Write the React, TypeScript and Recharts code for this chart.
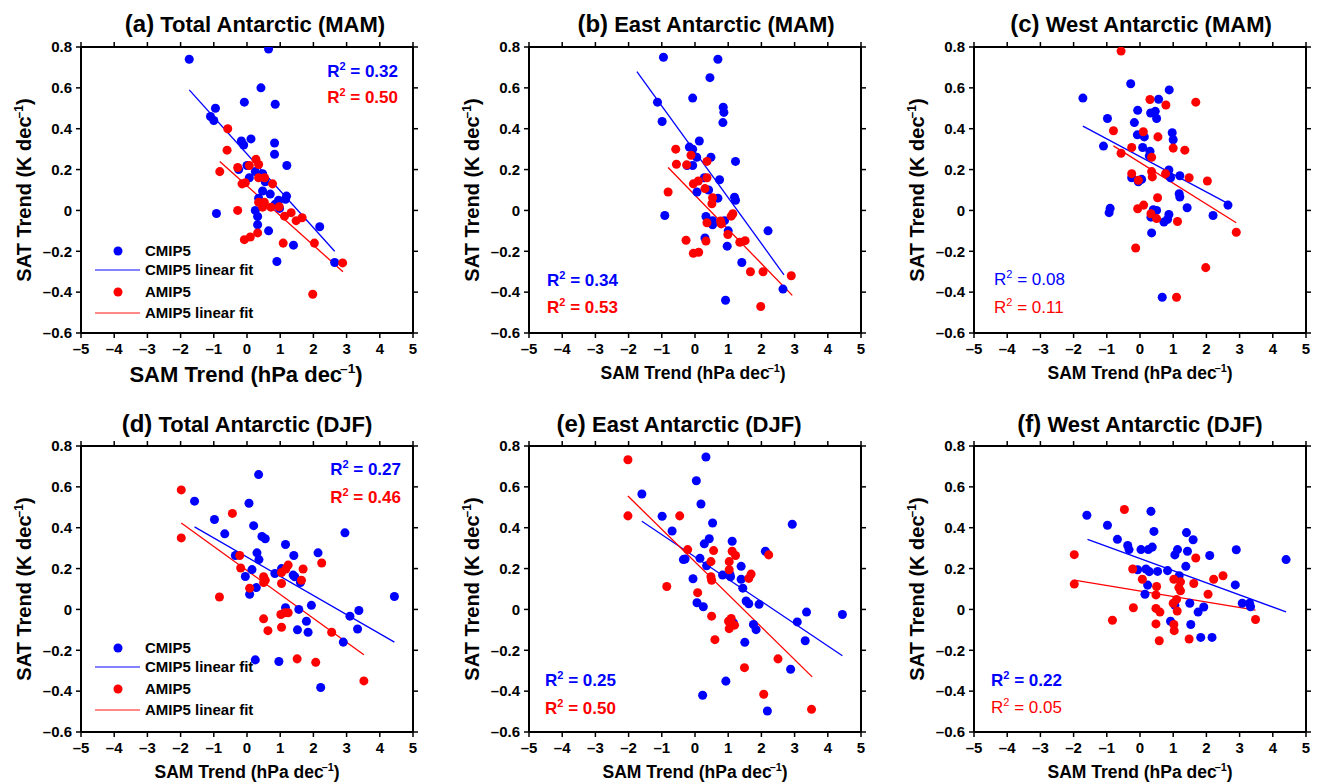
import React from 'react'
import { ReferenceLine, Scatter, ScatterChart, XAxis, YAxis } from 'recharts'

type Pt = [number, number]

const xTicks = [-5, -4, -3, -2, -1, 0, 1, 2, 3, 4, 5]
const yTicks = [-0.6, -0.4, -0.2, 0, 0.2, 0.4, 0.6, 0.8]

// (a) Total Antarctic (MAM)
const aCmip: Pt[] = [
  [-1.74, 0.74], [0.65, 0.79], [0.42, 0.6], [-0.08, 0.53], [0.85, 0.52], [-0.95, 0.5],
  [-1.1, 0.46], [-1.0, 0.44], [-0.17, 0.34], [-0.1, 0.32], [0.12, 0.35], [0.83, 0.33],
  [0.83, 0.275], [1.2, 0.22], [-0.25, 0.2], [0.0, 0.22], [0.07, 0.16], [0.25, 0.19],
  [0.47, 0.18], [0.55, 0.14], [0.47, 0.095], [0.7, 0.08], [0.35, 0.06], [1.19, 0.07],
  [1.16, 0.055], [0.95, 0.05], [0.85, 0.03], [0.98, 0.01], [0.25, 0.0], [0.32, -0.03],
  [0.32, -0.07], [0.65, -0.1], [-0.92, -0.015], [1.4, -0.17], [2.19, -0.08], [0.9, -0.25],
  [2.64, -0.255],
]
const aAmip: Pt[] = [
  [-0.58, 0.4], [-0.6, 0.295], [-0.82, 0.19], [-0.28, 0.21], [0.07, 0.22], [0.27, 0.25],
  [0.35, 0.225], [-0.15, 0.13], [-0.05, 0.135], [0.35, 0.16], [0.53, 0.16], [0.77, 0.13],
  [0.35, 0.04], [0.52, 0.04], [0.47, 0.016], [0.72, 0.016], [0.97, 0.018], [-0.28, 0.0],
  [1.13, -0.028], [1.33, -0.011], [1.48, -0.05], [1.66, -0.036], [-0.08, -0.143], [0.1, -0.13],
  [0.32, -0.11], [1.09, -0.16], [2.03, -0.16], [2.88, -0.257], [1.98, -0.41],
]
const aCmipFit: Pt[] = [[-1.74, 0.59], [2.64, -0.2]]
const aAmipFit: Pt[] = [[-0.82, 0.24], [2.89, -0.3]]

// (b) East Antarctic (MAM)
const bCmip: Pt[] = [
  [-0.95, 0.75], [0.69, 0.74], [0.45, 0.65], [-0.07, 0.55], [-1.13, 0.53], [0.85, 0.505],
  [0.87, 0.48], [-0.99, 0.435], [0.84, 0.43], [0.13, 0.34], [-0.17, 0.31], [-0.07, 0.3],
  [0.05, 0.26], [0.48, 0.26], [1.22, 0.24], [-0.07, 0.22], [-0.24, 0.22], [0.74, 0.15],
  [0.28, 0.16], [0.41, 0.1], [0.06, 0.09], [0.69, 0.06], [1.19, 0.065], [1.22, 0.05],
  [0.33, -0.03], [0.53, -0.05], [0.89, -0.05], [0.53, -0.07], [1.0, -0.1], [2.2, -0.1],
  [0.3, -0.135], [0.97, -0.175], [1.41, -0.255], [2.65, -0.385], [0.92, -0.44], [-0.91, -0.025],
]
const bAmip: Pt[] = [
  [-0.58, 0.3], [-0.56, 0.226], [-0.25, 0.223], [-0.12, 0.27], [0.36, 0.24], [-0.81, 0.09],
  [-0.05, 0.13], [0.1, 0.144], [0.3, 0.107], [0.36, 0.16], [0.53, 0.062], [0.51, 0.033],
  [1.09, -0.028], [1.14, -0.016], [0.36, -0.06], [0.77, -0.052], [0.79, -0.066], [0.99, -0.118],
  [1.35, -0.156], [1.51, -0.148], [-0.27, -0.146], [0.33, -0.15], [-0.05, -0.21], [0.11, -0.205],
  [1.67, -0.3], [2.05, -0.3], [2.9, -0.32], [1.98, -0.47],
]
const bCmipFit: Pt[] = [[-1.75, 0.68], [2.68, -0.315]]
const bAmipFit: Pt[] = [[-0.81, 0.21], [2.93, -0.416]]

// (c) West Antarctic (MAM)
const cCmip: Pt[] = [
  [-1.72, 0.55], [-0.28, 0.62], [0.88, 0.59], [0.56, 0.544], [-0.98, 0.45], [-0.07, 0.49],
  [0.32, 0.477], [0.46, 0.485], [0.5, 0.45], [-0.17, 0.43], [-0.08, 0.37], [0.13, 0.36],
  [0.97, 0.38], [1.0, 0.346], [-1.1, 0.315], [0.08, 0.308], [0.3, 0.29], [0.28, 0.267],
  [0.87, 0.198], [1.2, 0.17], [0.92, 0.16], [-0.25, 0.16], [0.05, 0.152], [-0.05, 0.14],
  [1.18, 0.082], [1.2, 0.066], [1.42, 0.013], [2.65, 0.026], [-0.9, 0.01], [-0.93, -0.011],
  [0.33, -0.033], [0.4, 0.003], [0.5, 0.0], [0.87, -0.02], [0.83, -0.044], [0.72, -0.057],
  [2.2, -0.025], [0.35, -0.11], [0.67, -0.425],
]
const cAmip: Pt[] = [
  [-0.57, 0.78], [0.3, 0.543], [0.78, 0.516], [1.68, 0.53], [-0.8, 0.39], [0.1, 0.385],
  [0.54, 0.36], [-0.25, 0.308], [1.0, 0.305], [1.35, 0.295], [-0.57, 0.28], [0.35, 0.26],
  [-0.25, 0.18], [0.35, 0.19], [0.37, 0.164], [0.77, 0.18], [1.48, 0.16], [2.03, 0.144],
  [-0.05, 0.148], [0.53, 0.062], [-0.07, 0.008], [0.11, 0.026], [0.33, -0.016], [0.5, -0.04],
  [1.13, -0.054], [2.9, -0.107], [-0.13, -0.184], [1.98, -0.28], [1.1, -0.425],
]
const cCmipFit: Pt[] = [[-1.72, 0.413], [2.6, 0.038]]
const cAmipFit: Pt[] = [[-0.8, 0.316], [2.9, -0.06]]

// (d) Total Antarctic (DJF)
const dCmip: Pt[] = [
  [0.35, 0.66], [-1.58, 0.53], [0.06, 0.52], [-0.98, 0.44], [0.2, 0.41], [-0.67, 0.37],
  [0.45, 0.357], [0.55, 0.346], [2.95, 0.375], [1.16, 0.318], [0.3, 0.277], [2.14, 0.277],
  [-0.35, 0.264], [1.41, 0.264], [0.36, 0.244], [0.15, 0.195], [1.04, 0.2], [0.84, 0.176],
  [1.39, 0.168], [-0.05, 0.161], [1.44, 0.16], [1.61, 0.132], [0.28, 0.107], [0.08, 0.074],
  [4.44, 0.063], [1.94, 0.02], [1.16, 0.008], [1.56, 0.0], [3.37, -0.005], [3.1, -0.033],
  [1.79, -0.058], [1.52, -0.1], [1.84, -0.112], [3.33, -0.096], [2.9, -0.16], [0.25, -0.247],
  [0.96, -0.255], [2.22, -0.382],
]
const dAmip: Pt[] = [
  [-1.98, 0.585], [-0.44, 0.47], [-1.98, 0.35], [-0.22, 0.264], [-0.19, 0.203], [-0.83, 0.061],
  [0.08, 0.104], [0.5, 0.16], [0.55, 0.143], [0.5, 0.132], [1.04, 0.127], [1.04, 0.181],
  [1.17, 0.198], [1.24, 0.217], [1.69, 0.198], [1.64, 0.143], [2.25, 0.227], [1.02, -0.025],
  [1.14, -0.016], [1.24, -0.016], [0.5, -0.046], [0.63, -0.104], [1.04, -0.087], [2.55, -0.112],
  [1.51, -0.242], [2.07, -0.259], [3.52, -0.35],
]
const dCmipFit: Pt[] = [[-1.58, 0.404], [4.44, -0.16]]
const dAmipFit: Pt[] = [[-1.98, 0.423], [3.52, -0.222]]

// (e) East Antarctic (DJF)
const eCmip: Pt[] = [
  [0.33, 0.746], [-1.6, 0.565], [0.04, 0.63], [0.18, 0.516], [-0.99, 0.456], [0.53, 0.423],
  [2.93, 0.417], [-0.69, 0.384], [0.43, 0.346], [0.28, 0.321], [1.12, 0.334], [2.12, 0.285],
  [-0.35, 0.244], [-0.3, 0.247], [0.15, 0.25], [0.35, 0.214], [1.39, 0.211], [0.83, 0.168],
  [1.05, 0.173], [1.07, 0.16], [1.39, 0.148], [-0.06, 0.15], [1.44, 0.104], [1.54, 0.041],
  [1.62, 0.028], [1.93, 0.025], [0.06, 0.033], [0.25, 0.013], [4.44, -0.025], [3.36, -0.013],
  [3.08, -0.061], [1.16, -0.066], [1.76, -0.074], [1.84, -0.099], [1.5, -0.161], [3.32, -0.153],
  [2.88, -0.293], [0.93, -0.351], [0.23, -0.42], [2.18, -0.497],
]
const eAmip: Pt[] = [
  [-2.02, 0.733], [-2.02, 0.458], [-0.46, 0.458], [-0.22, 0.293], [0.56, 0.288], [1.12, 0.285],
  [1.22, 0.264], [2.22, 0.267], [0.48, 0.234], [1.03, 0.234], [1.03, 0.194], [1.69, 0.173],
  [1.62, 0.152], [0.48, 0.16], [0.5, 0.143], [-0.85, 0.112], [0.08, 0.082], [0.5, -0.033],
  [1.09, -0.044], [1.01, -0.058], [1.19, -0.077], [1.03, -0.094], [0.6, -0.148], [2.5, -0.242],
  [1.49, -0.285], [2.07, -0.415], [3.51, -0.489],
]
const eCmipFit: Pt[] = [[-1.6, 0.432], [4.44, -0.227]]
const eAmipFit: Pt[] = [[-2.02, 0.555], [3.53, -0.33]]

// (f) West Antarctic (DJF)
const fCmip: Pt[] = [
  [-1.6, 0.461], [0.33, 0.48], [-0.98, 0.412], [0.42, 0.382], [-0.68, 0.343], [1.4, 0.376],
  [1.6, 0.341], [-0.37, 0.313], [-0.33, 0.293], [0.03, 0.293], [0.25, 0.293], [0.37, 0.305],
  [1.13, 0.293], [1.43, 0.285], [2.9, 0.292], [1.05, 0.267], [2.1, 0.264], [1.38, 0.211],
  [-0.07, 0.194], [0.18, 0.198], [0.28, 0.185], [0.53, 0.186], [0.83, 0.19], [1.18, 0.165],
  [4.4, 0.244], [0.23, 0.119], [2.87, 0.12], [0.15, 0.074], [3.08, 0.03], [3.3, 0.03],
  [3.33, 0.013], [1.5, 0.03], [1.92, 0.012], [1.75, -0.013], [1.05, 0.02], [0.92, -0.058],
  [1.53, -0.074], [1.83, -0.137], [2.17, -0.137],
]
const fAmip: Pt[] = [
  [-0.47, 0.489], [-1.98, 0.268], [1.68, 0.252], [-0.22, 0.198], [2.5, 0.165], [2.22, 0.148],
  [0.07, 0.148], [1.02, 0.148], [1.22, 0.135], [1.62, 0.127], [-1.98, 0.124], [0.5, 0.112],
  [1.17, 0.107], [1.22, 0.091], [0.48, 0.071], [2.05, 0.074], [1.1, 0.049], [1.0, 0.03],
  [-0.2, 0.008], [0.48, 0.005], [0.6, -0.013], [1.12, -0.008], [-0.83, -0.053], [3.48, -0.049],
  [0.48, -0.071], [1.02, -0.074], [1.03, -0.104], [0.58, -0.153], [1.48, -0.145],
]
const fCmipFit: Pt[] = [[-1.58, 0.343], [4.4, -0.012]]
const fAmipFit: Pt[] = [[-1.98, 0.143], [3.48, -0.003]]

const panelLetters = ['(a)', '(b)', '(c)', '(d)', '(e)', '(f)']
const panelNames = [
  'Total Antarctic (MAM)', 'East Antarctic (MAM)', 'West Antarctic (MAM)',
  'Total Antarctic (DJF)', 'East Antarctic (DJF)', 'West Antarctic (DJF)',
]
const r2Cmip = ['0.32', '0.34', '0.08', '0.27', '0.25', '0.22']
const r2Amip = ['0.50', '0.53', '0.11', '0.46', '0.50', '0.05']
const legendNames = ['CMIP5', 'CMIP5 linear fit', 'AMIP5', 'AMIP5 linear fit']

const FONT = '"Liberation Sans", Arial, Helvetica, sans-serif'
const BLUE = '#0000ff'
const RED = '#ff0000'
const W = 332
const H = 286
const YW = 60
const RW = 10
const TH = 8
const BH = 30

const toObj = (pts: Pt[]) => pts.map(([x, y]) => ({ x, y }))
const seg = (pts: Pt[]) => pts.map(([x, y]) => ({ x, y }))

const fmtY = (v: number) => {
  if (Math.abs(v) < 1e-9) return '0'
  return (v < 0 ? '\u2013' : '') + Math.abs(v).toFixed(1)
}
const fmtX = (v: number) => (v < 0 ? '\u2013' : '') + Math.abs(v)

const tickStyle = { fontSize: 15, fontWeight: 'bold', fill: '#000', fontFamily: FONT }
const axisLine = { stroke: '#000', strokeWidth: 2 }
const tickLine = { stroke: '#000', strokeWidth: 1.5 }

interface PanelProps {
  left: number
  top: number
  cmip: Pt[]
  amip: Pt[]
  cmipFit: Pt[]
  amipFit: Pt[]
}

function Panel({ left, top, cmip, amip, cmipFit, amipFit }: PanelProps) {
  return (
    <div style={{ position: 'absolute', left: left - YW, top: top - TH }}>
      <ScatterChart
        width={YW + W + RW}
        height={TH + H + BH}
        margin={{ top: 0, right: 0, bottom: 0, left: 0 }}
      >
        <XAxis
          xAxisId="b"
          type="number"
          dataKey="x"
          domain={[-5, 5]}
          ticks={xTicks}
          allowDataOverflow
          height={BH}
          tickSize={5}
          tickMargin={5}
          tick={tickStyle}
          tickFormatter={fmtX}
          axisLine={axisLine}
          tickLine={tickLine}
          interval={0}
        />
        <XAxis
          xAxisId="t"
          orientation="top"
          type="number"
          dataKey="x"
          domain={[-5, 5]}
          ticks={xTicks}
          allowDataOverflow
          height={TH}
          tickSize={5}
          tickFormatter={() => ''}
          axisLine={axisLine}
          tickLine={tickLine}
          interval={0}
        />
        <YAxis
          yAxisId="l"
          type="number"
          dataKey="y"
          domain={[-0.6, 0.8]}
          ticks={yTicks}
          allowDataOverflow
          width={YW}
          tickSize={5}
          tickMargin={4}
          tick={tickStyle}
          tickFormatter={fmtY}
          axisLine={axisLine}
          tickLine={tickLine}
          interval={0}
        />
        <YAxis
          yAxisId="r"
          orientation="right"
          type="number"
          dataKey="y"
          domain={[-0.6, 0.8]}
          ticks={yTicks}
          allowDataOverflow
          width={RW}
          tickSize={5}
          tickFormatter={() => ''}
          axisLine={axisLine}
          tickLine={tickLine}
          interval={0}
        />
        <Scatter xAxisId="b" yAxisId="l" data={toObj(cmip)} fill={BLUE} isAnimationActive={false} />
        <Scatter xAxisId="t" yAxisId="r" data={toObj(amip)} fill={RED} isAnimationActive={false} />
        <ReferenceLine xAxisId="b" yAxisId="l" segment={seg(cmipFit)} stroke={BLUE} strokeWidth={1.3} />
        <ReferenceLine xAxisId="t" yAxisId="r" segment={seg(amipFit)} stroke={RED} strokeWidth={1.3} />
      </ScatterChart>
    </div>
  )
}

const lefts = [81, 529, 974, 81, 529, 974]
const tops = [47, 47, 47, 446, 446, 446]
const titleX = [255, 706, 1141, 247, 679, 1140]
const series = [
  [aCmip, aAmip, aCmipFit, aAmipFit],
  [bCmip, bAmip, bCmipFit, bAmipFit],
  [cCmip, cAmip, cCmipFit, cAmipFit],
  [dCmip, dAmip, dCmipFit, dAmipFit],
  [eCmip, eAmip, eCmipFit, eAmipFit],
  [fCmip, fAmip, fCmipFit, fAmipFit],
]

function R2({ x, y, value, color, bold, anchor }: { x: number; y: number; value: string; color: string; bold: boolean; anchor: 'start' | 'end' }) {
  return (
    <text x={x} y={y} fill={color} fontSize={17} fontWeight={bold ? 'bold' : 'normal'} textAnchor={anchor}>
      R<tspan fontSize={11} dy={-7}>2</tspan>
      <tspan dy={7}> = {value}</tspan>
    </text>
  )
}

function SamLabel({ x, y, size }: { x: number; y: number; size: number }) {
  return (
    <text x={x} y={y} fontSize={size} fontWeight="bold" textAnchor="middle">
      SAM Trend (hPa dec
      <tspan fontSize={size * 0.62} dy={-size * 0.42} dx={-2}>{'\u2013'}1</tspan>
      <tspan dy={size * 0.42}>)</tspan>
    </text>
  )
}

function SatLabel({ cx, cy }: { cx: number; cy: number }) {
  return (
    <text x={cx} y={cy} dy={7} fontSize={20} fontWeight="bold" textAnchor="middle" transform={`rotate(-90, ${cx}, ${cy})`}>
      SAT Trend (K dec
      <tspan fontSize={12} dy={-8} dx={-2}>{'\u2013'}1</tspan>
      <tspan dy={8}>)</tspan>
    </text>
  )
}

function Legend({ top }: { top: number }) {
  // top = y of first legend row (dot centre)
  const rows = [0, 19, 41, 62]
  return (
    <g fontSize={15} fontWeight="bold">
      <circle cx={118} cy={top + rows[0]} r={4.5} fill={BLUE} />
      <line x1={95} x2={140} y1={top + rows[1]} y2={top + rows[1]} stroke="#5a5aff" strokeWidth={1.6} />
      <circle cx={118} cy={top + rows[2]} r={4.5} fill={RED} />
      <line x1={95} x2={140} y1={top + rows[3]} y2={top + rows[3]} stroke="#ff6060" strokeWidth={1.6} />
      {legendNames.map((n, i) => (
        <text key={n} x={145} y={top + rows[i] + 5}>{n}</text>
      ))}
    </g>
  )
}

export default function App() {
  return (
    <div style={{ position: 'absolute', left: 0, top: 0, width: 1320, height: 783, background: '#fff', fontFamily: FONT }}>
      {series.map((s, i) => (
        <Panel key={i} left={lefts[i]} top={tops[i]} cmip={s[0]} amip={s[1]} cmipFit={s[2]} amipFit={s[3]} />
      ))}
      <svg width={1320} height={783} style={{ position: 'absolute', left: 0, top: 0, pointerEvents: 'none' }} fontFamily={FONT}>
        {panelNames.map((n, i) => (
          <text key={n} x={titleX[i]} y={i < 3 ? 32 : 432} textAnchor="middle" fontWeight="bold">
            <tspan fontSize={24}>{panelLetters[i]}</tspan>
            <tspan fontSize={22}> {n}</tspan>
          </text>
        ))}
        {lefts.map((l, i) => (
          <SatLabel key={i} cx={l - 57} cy={tops[i] + H / 2} />
        ))}
        <SamLabel x={246} y={382} size={22} />
        <SamLabel x={lefts[1] + W / 2 - 2} y={379} size={17.5} />
        <SamLabel x={lefts[2] + W / 2} y={379} size={17.5} />
        <SamLabel x={lefts[3] + W / 2} y={778} size={17.5} />
        <SamLabel x={lefts[4] + W / 2} y={778} size={17.5} />
        <SamLabel x={lefts[5] + W / 2} y={778} size={17.5} />

        <R2 x={398} y={77} value={r2Cmip[0]} color={BLUE} bold anchor="end" />
        <R2 x={398} y={103} value={r2Amip[0]} color={RED} bold anchor="end" />
        <R2 x={547} y={286} value={r2Cmip[1]} color={BLUE} bold anchor="start" />
        <R2 x={547} y={313} value={r2Amip[1]} color={RED} bold anchor="start" />
        <R2 x={994} y={285} value={r2Cmip[2]} color={BLUE} bold={false} anchor="start" />
        <R2 x={994} y={313} value={r2Amip[2]} color={RED} bold={false} anchor="start" />
        <R2 x={401} y={475} value={r2Cmip[3]} color={BLUE} bold anchor="end" />
        <R2 x={401} y={503} value={r2Amip[3]} color={RED} bold anchor="end" />
        <R2 x={545} y={686} value={r2Cmip[4]} color={BLUE} bold anchor="start" />
        <R2 x={545} y={714} value={r2Amip[4]} color={RED} bold anchor="start" />
        <R2 x={991} y={686} value={r2Cmip[5]} color={BLUE} bold anchor="start" />
        <R2 x={991} y={713} value={r2Amip[5]} color={RED} bold={false} anchor="start" />

        <Legend top={251} />
        <Legend top={648} />
      </svg>
    </div>
  )
}
